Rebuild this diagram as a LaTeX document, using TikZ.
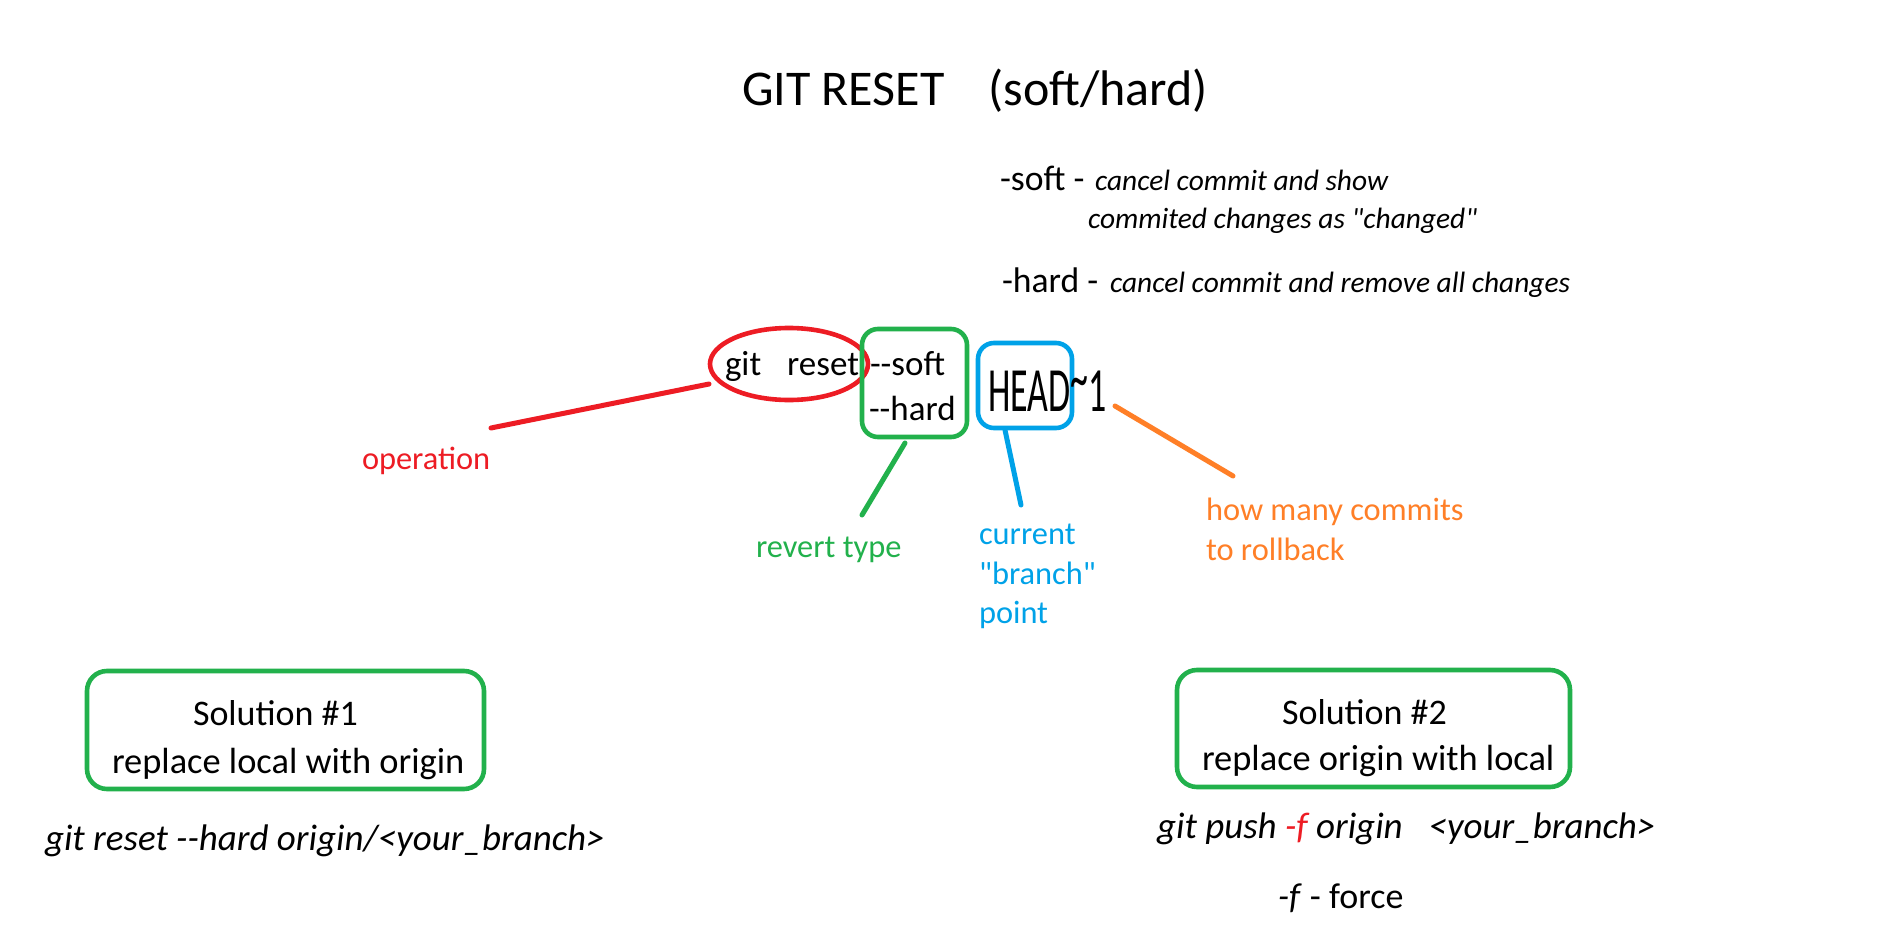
\documentclass[tikz,border=0pt]{standalone}
\usepackage{fontspec}
\setmainfont{Carlito}[Ligatures=TeXOff]
\usetikzlibrary{shapes.geometric}
\definecolor{pred}{HTML}{ED1C24}
\definecolor{pgreen}{HTML}{22B14C}
\definecolor{pblue}{HTML}{00A2E8}
\definecolor{porange}{HTML}{FF7F27}
\newcommand\mydescfont{\fontsize{14.7}{17}\selectfont\itshape}
\begin{document}
\begin{tikzpicture}[x=0.5pt,y=-0.5pt,
  txt/.style={anchor=base west, inner sep=0pt, outer sep=0pt},
  titletxt/.style={txt, font=\fontsize{25}{29}\selectfont},
  desctxt/.style={txt, font=\fontsize{17.8}{20}\selectfont},
  cmdtxt/.style={txt, font=\fontsize{17.5}{20}\selectfont},
  labeltxt/.style={txt, font=\fontsize{16.2}{19}\selectfont},
  solhead/.style={txt, font=\fontsize{18}{21}\selectfont},
  soltxt/.style={txt, font=\fontsize{18.2}{21}\selectfont},
  codetxt/.style={txt, font=\fontsize{18.5}{21}\selectfont\itshape},
  frame/.style={draw, line width=2.3pt, rounded corners=8pt, inner sep=0pt},
  conn/.style={line width=2.5pt, line cap=round}
]
\useasboundingbox[fill=white] (0,0) rectangle (1891,931);

% title
\node[titletxt] (title) at (742,105) {GIT RESET\hspace{22pt}(soft/hard)};

% descriptions
\node[desctxt] (dsoft) at (1000,191) {-soft -};
\node[txt, font=\mydescfont] (dsofti) at (1095,191) {cancel commit and show};
\node[txt, font=\mydescfont] (dsoft2) at (1088,228) {commited changes as "changed"};
\node[desctxt] (dhard) at (1002,292) {-hard -};
\node[txt, font=\mydescfont] (dhardi) at (1110,292) {cancel commit and remove all changes};

% command
\node[draw=pred, ellipse, line width=2.3pt, minimum width=79pt, minimum height=36pt, inner sep=0pt] (ell) at (789,364) {};
\node[cmdtxt] (gitreset) at (725,375) {git\hspace{13pt}reset};
\node[frame, draw=pgreen, minimum width=52.5pt, minimum height=54pt] (gbox) at (914.5,383) {};
\node[cmdtxt] (soft) at (870,375) {--soft};
\node[cmdtxt] (hard) at (869,420) {--hard};
\node[frame, draw=pblue, minimum width=47pt, minimum height=42.5pt] (hbox) at (1025,385.5) {};
\node[txt] (head) at (988,411) {\scalebox{0.57}[1]{\fontsize{31.5}{33}\selectfont HEAD\raisebox{0.18em}{\textasciitilde}1}};

% labels
\node[labeltxt, text=pred] (op) at (362,469) {operation};
\node[labeltxt, text=pgreen] (rt) at (756,557) {revert type};
\node[labeltxt, text=pblue] (cur1) at (979,544) {current};
\node[labeltxt, text=pblue] (cur2) at (979,584) {"branch"};
\node[labeltxt, text=pblue] (cur3) at (979,623) {point};
\node[labeltxt, text=porange] (hm1) at (1206,520) {how many commits};
\node[labeltxt, text=porange] (hm2) at (1206,560) {to rollback};

% connectors
\coordinate (redA) at (709,384);
\coordinate (redB) at (491,428);
\coordinate (grnA) at (905,443);
\coordinate (grnB) at (862,515);
\coordinate (bluA) at (1005,430);
\coordinate (bluB) at (1021,505);
\coordinate (orgA) at (1115,406);
\coordinate (orgB) at (1233,476);
\draw[conn, pred] (redA) -- (redB);
\draw[conn, pgreen] (grnA) -- (grnB);
\draw[conn, pblue] (bluA) -- (bluB);
\draw[conn, porange] (orgA) -- (orgB);

% solutions
\node[frame, draw=pgreen, rounded corners=10pt, minimum width=198.5pt, minimum height=59pt] (sol1) at (285.5,730) {};
\node[solhead] (s1a) at (193,725) {Solution \#1};
\node[soltxt] (s1b) at (112,773) {replace local with origin};
\node[codetxt] (c1) at (45,850) {git reset --hard origin/<your\_branch>};

\node[frame, draw=pgreen, rounded corners=10pt, minimum width=196.5pt, minimum height=58.5pt] (sol2) at (1373.5,728.5) {};
\node[solhead] (s2a) at (1282,724) {Solution \#2};
\node[soltxt] (s2b) at (1202,770) {replace origin with local};
\node[codetxt] (c2) at (1157,838) {git push {\color{pred}-f} origin\hspace{13pt}<your\_branch>};
\node[txt, font=\fontsize{18}{21}\selectfont] (force) at (1278,908) {\textit{-f} - force};
\end{tikzpicture}
\end{document}
